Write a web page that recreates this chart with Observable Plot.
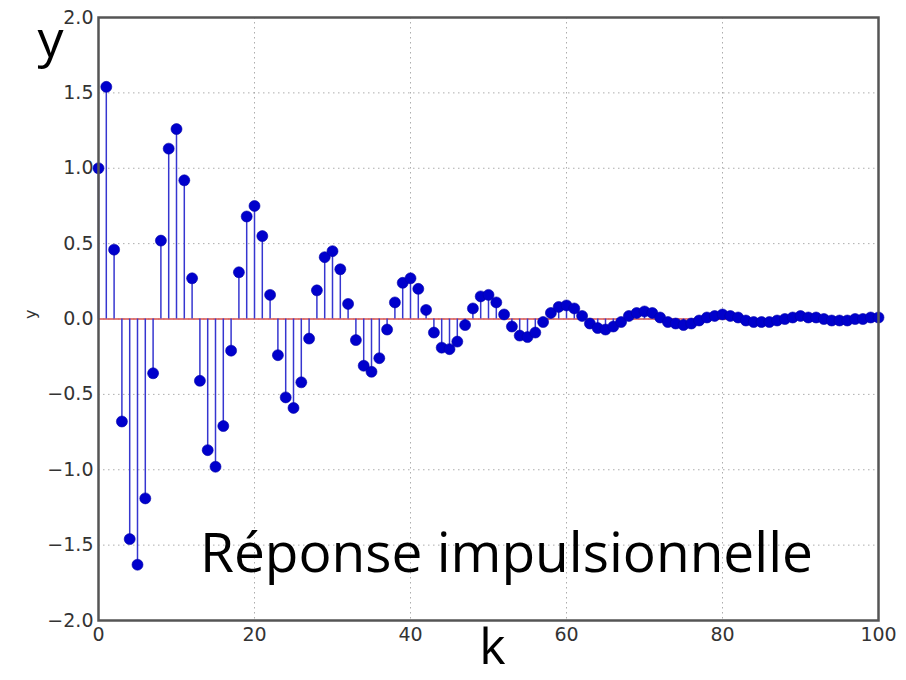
<!DOCTYPE html>
<html>
<head>
<meta charset="utf-8">
<script src="https://cdn.jsdelivr.net/npm/d3@7"></script>
<script src="https://cdn.jsdelivr.net/npm/@observablehq/plot@0.6"></script>
<style>
  html, body { margin: 0; padding: 0; background: #fff; }
  #chart { width: 906px; height: 680px; }
</style>
</head>
<body>
<div id="chart"></div>
<script>
const kValues = d3.range(0, 101);
const yValues = [
  1.00, 1.54, 0.46, -0.68, -1.46, -1.63, -1.19, -0.36, 0.52, 1.13,
  1.26, 0.92, 0.27, -0.41, -0.87, -0.98, -0.71, -0.21, 0.31, 0.68,
  0.75, 0.55, 0.16, -0.24, -0.52, -0.59, -0.42, -0.13, 0.19, 0.41,
  0.45, 0.33, 0.10, -0.14, -0.31, -0.35, -0.26, -0.07, 0.11, 0.24,
  0.27, 0.20, 0.06, -0.09, -0.19, -0.20, -0.15, -0.04, 0.07, 0.15,
  0.16, 0.11, 0.03, -0.05, -0.11, -0.12, -0.09, -0.02, 0.04, 0.08,
  0.09, 0.07, 0.02, -0.03, -0.06, -0.07, -0.05, -0.02, 0.02, 0.04,
  0.05, 0.04, 0.01, -0.02, -0.03, -0.04, -0.03, -0.01, 0.01, 0.02,
  0.03, 0.02, 0.01, -0.01, -0.02, -0.02, -0.02, -0.01, 0.00, 0.01,
  0.02, 0.01, 0.01, 0.00, -0.01, -0.01, -0.01, 0.00, 0.00, 0.01,
  0.01
];
const xTicks = [0, 20, 40, 60, 80, 100];
const yTicks = [-2.0, -1.5, -1.0, -0.5, 0.0, 0.5, 1.0, 1.5, 2.0];
const annotation = [{k: 52.3, y: -1.56, text: "Réponse impulsionnelle"}];
const baseline = [{k: 0, y: 0}, {k: 100, y: 0}];

const data = kValues.map((k, i) => ({k, y: yValues[i]}));
const fmt = d => d3.format(".1f")(d).replace("-", "\u2212");

const chart = Plot.plot({
  width: 906,
  height: 680,
  marginLeft: 98,
  marginRight: 28,
  marginTop: 17,
  marginBottom: 60,
  style: {fontFamily: "DejaVu Sans", fontSize: "19px", color: "#333", background: "#fff"},
  x: {domain: [0, 100], ticks: xTicks, label: null},
  y: {domain: [-2, 2], ticks: yTicks, label: null, tickFormat: fmt},
  marks: [
    Plot.gridX(xTicks, {stroke: "#999", strokeOpacity: 0.8, strokeDasharray: "1.5,3.5"}),
    Plot.gridY(yTicks, {stroke: "#999", strokeOpacity: 0.8, strokeDasharray: "1.5,3.5"}),
    Plot.line(baseline, {x: "k", y: "y", stroke: "#d9534f", strokeWidth: 1.3}),
    Plot.ruleX(data, {x: "k", y1: 0, y2: "y", stroke: "#3636d0", strokeWidth: 1.5}),
    Plot.dot(data, {x: "k", y: "y", r: 5.5, fill: "#0000cc", stroke: "#0000a8", strokeWidth: 0.6}),
    Plot.frame({stroke: "#555", strokeWidth: 2.5}),
    Plot.axisX(xTicks, {tickSize: 0, tickPadding: 7, fontSize: 19, label: null}),
    Plot.axisY(yTicks, {tickSize: 0, tickPadding: 5, fontSize: 19, label: null, tickFormat: fmt}),
    Plot.text(annotation, {x: "k", y: "y", text: "text", fontSize: 55, fontFamily: "Open Sans", fill: "#000"}),
    Plot.text(["y"], {frameAnchor: "top-left", lineAnchor: "middle", dx: -61, dy: 23, text: d => d, fontSize: 52, fontFamily: "Open Sans", fill: "#000"}),
    Plot.text(["k"], {frameAnchor: "bottom", lineAnchor: "middle", dx: 4, dy: 27, text: d => d, fontSize: 50, fontFamily: "Open Sans", fill: "#000"}),
    Plot.text(["y"], {frameAnchor: "left", dx: -68, text: d => d, rotate: -90, fontSize: 16, fontFamily: "DejaVu Sans", fill: "#333"})
  ]
});
document.getElementById("chart").appendChild(chart);
</script>
</body>
</html>
